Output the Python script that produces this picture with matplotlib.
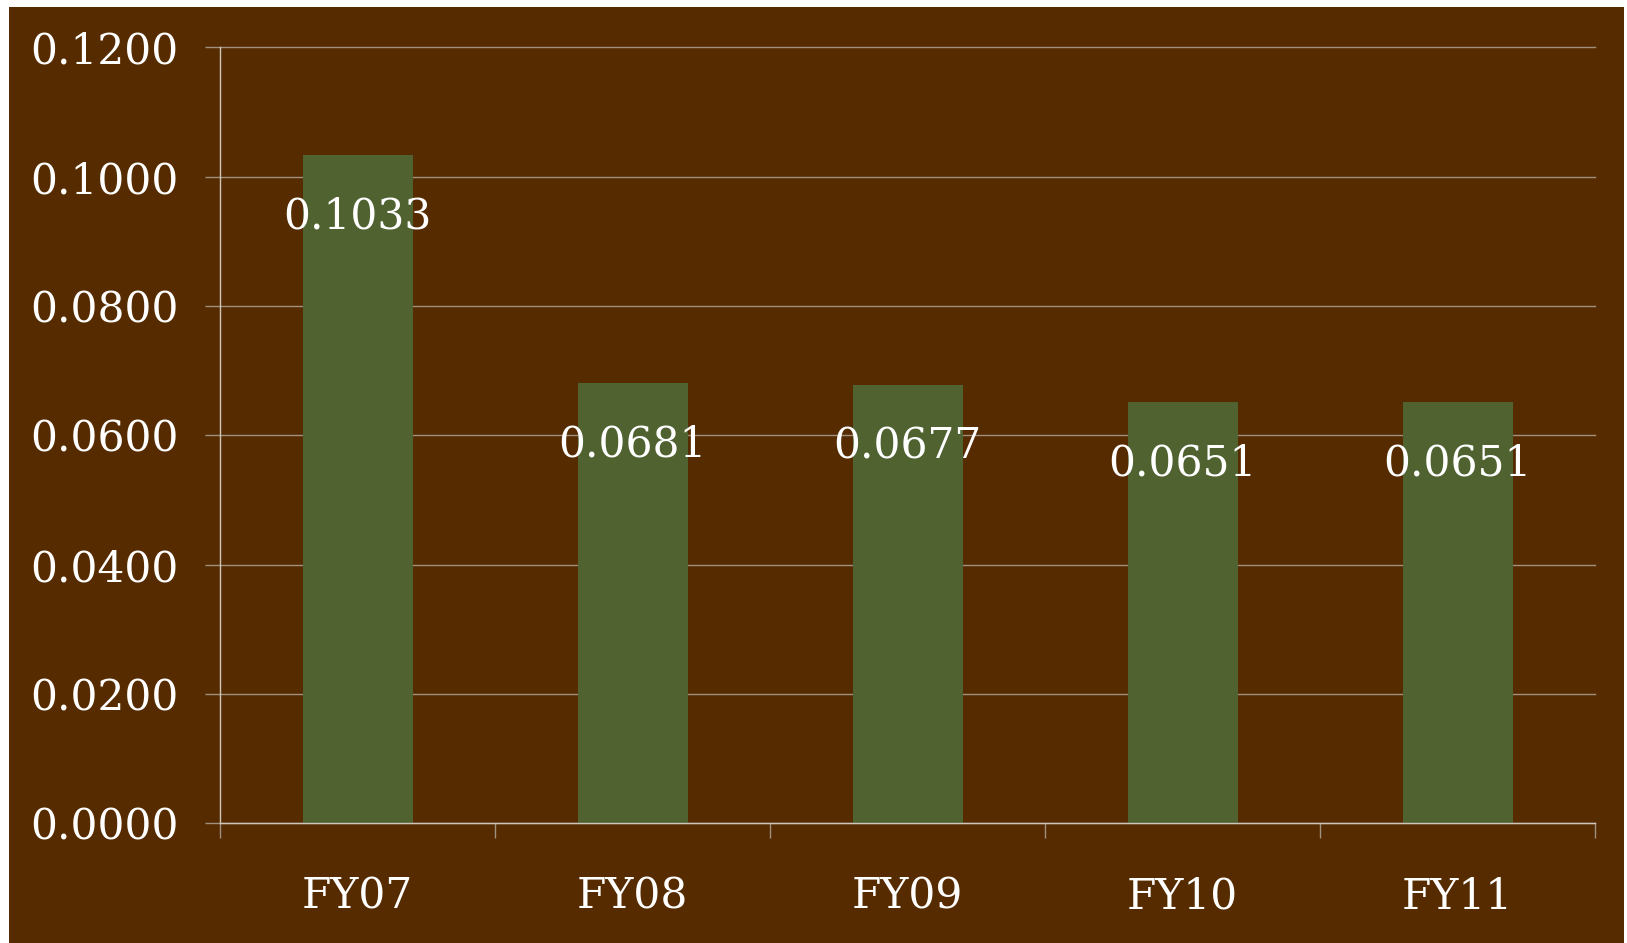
import matplotlib
matplotlib.use("Agg")
import matplotlib.pyplot as plt
from matplotlib.patches import Rectangle
import numpy as np

categories = ["FY07", "FY08", "FY09", "FY10", "FY11"]
values = [0.1033, 0.0681, 0.0677, 0.0651, 0.0651]
yticks = [0.0, 0.02, 0.04, 0.06, 0.08, 0.10, 0.12]

BG = "#562B00"
BAR = "#4F6230"
GRID = "#A0917F"
AX = "#CFC6BC"
FS = 30.5

W, H = 1627, 943
fig = plt.figure(figsize=(W / 100, H / 100), dpi=100, facecolor="white")
fig.patches.append(Rectangle((9 / W, 0), (1624 - 9) / W, (H - 7) / H,
                             transform=fig.transFigure, facecolor=BG,
                             edgecolor="none", zorder=-10))

ax = fig.add_axes([220 / W, 1 - 823 / H, (1595 - 220) / W, (823 - 47.5) / H])
ax.set_facecolor("none")
ax.set_zorder(1)

x = np.arange(len(categories))
ax.bar(x, values, width=0.4, color=BAR, zorder=2)

ax.set_xlim(-0.5, len(categories) - 0.5)
ax.set_ylim(0, 0.12)
ax.set_yticks(yticks)
ax.set_yticklabels([f"{v:.4f}" for v in yticks])
ax.yaxis.grid(True, color=GRID, linewidth=1.0, zorder=1)
ax.set_axisbelow(True)
for gl in ax.get_ygridlines():
    gl.set_clip_on(False)

ax.set_xticks(x)
ax.set_xticklabels(categories)
ax.set_xticks(np.arange(-0.5, len(categories) + 0.5, 1.0), minor=True)
ax.tick_params(axis="x", which="major", length=0, pad=38)
ax.tick_params(axis="x", which="minor", length=11, color=GRID, width=1)
ax.tick_params(axis="y", length=11, color=GRID, width=1, pad=19)

for lab in ax.get_xticklabels() + ax.get_yticklabels():
    lab.set_fontfamily("DejaVu Serif")
    lab.set_fontsize(FS)
    lab.set_color("white")

for s in ["top", "right"]:
    ax.spines[s].set_visible(False)
ax.spines["left"].set_color(AX)
ax.spines["left"].set_linewidth(1.0)
ax.spines["bottom"].set_color(AX)
ax.spines["bottom"].set_linewidth(1.0)

for xi, v in zip(x, values):
    ax.annotate(f"{v:.4f}", (xi, v), xytext=(0, -44), textcoords="offset points",
                ha="center", va="center", color="white", fontsize=FS,
                fontfamily="DejaVu Serif", zorder=3)

fig.savefig("out.png", dpi=100, facecolor=fig.get_facecolor())
